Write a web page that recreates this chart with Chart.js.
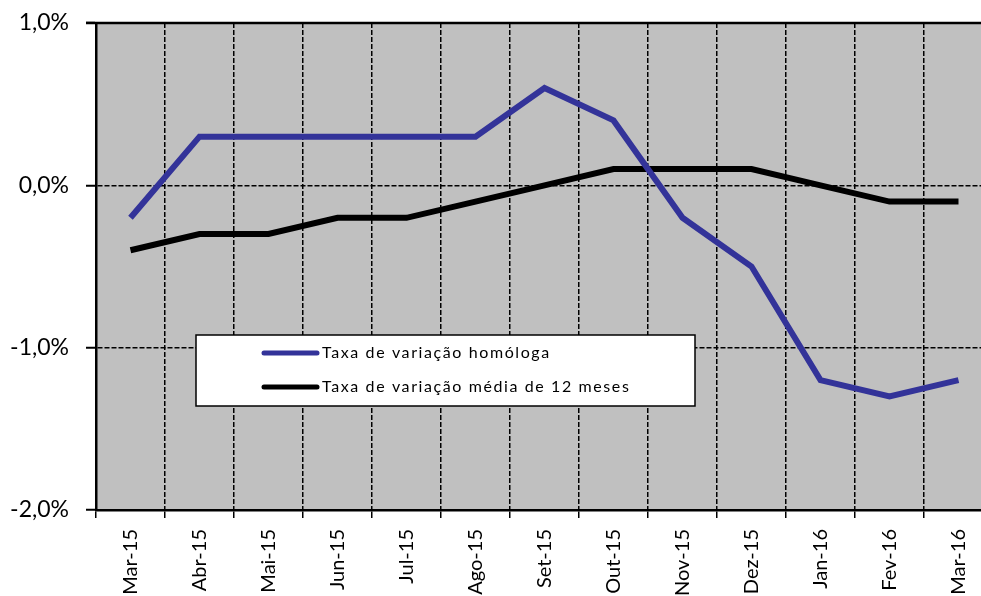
<!DOCTYPE html>
<html lang="pt">
<head>
<meta charset="UTF-8">
<title>Taxa de variação</title>
<script src="https://cdn.jsdelivr.net/npm/chart.js"></script>
<style>
  html, body { margin: 0; padding: 0; background: #fff; overflow: hidden; }
  #wrap { width: 995px; height: 596px; }
</style>
</head>
<body>
<div id="wrap"><canvas id="chart" width="995" height="596"></canvas></div>
<script>
// dados
const meses = ["Mar-15", "Abr-15", "Mai-15", "Jun-15", "Jul-15", "Ago-15", "Set-15",
               "Out-15", "Nov-15", "Dez-15", "Jan-16", "Fev-16", "Mar-16"];
const homologa = [-0.2, 0.3, 0.3, 0.3, 0.3, 0.3, 0.6, 0.4, -0.2, -0.5, -1.2, -1.3, -1.2];
const media12 = [-0.4, -0.3, -0.3, -0.2, -0.2, -0.1, 0.0, 0.1, 0.1, 0.1, 0.0, -0.1, -0.1];
const yTicks = [1, 0, -1, -2];

const fmt = v => v.toFixed(1).replace(".", ",") + "%";
const FONT = "Lato, 'Liberation Sans', Arial, sans-serif";

// fundo cinzento + moldura superior
const plotBg = {
  id: "plotBg",
  beforeDraw(chart) {
    const { ctx, chartArea: a } = chart;
    ctx.save();
    ctx.fillStyle = "#c0c0c0";
    ctx.fillRect(a.left, a.top, a.right - a.left, a.bottom - a.top);
    ctx.restore();
  },
  beforeDatasetsDraw(chart) {
    const { ctx, chartArea: a } = chart;
    ctx.save();
    ctx.strokeStyle = "#000";
    ctx.lineWidth = 2.5;
    ctx.beginPath();
    ctx.moveTo(a.left - 10, a.top);
    ctx.lineTo(a.right, a.top);
    ctx.stroke();
    ctx.restore();
  }
};

// legenda dentro do gráfico
const boxLegend = {
  id: "boxLegend",
  afterDatasetsDraw(chart) {
    const { ctx, chartArea: a } = chart;
    const x = a.left + 100, y = a.top + 312, w = 499, h = 71;
    ctx.save();
    ctx.fillStyle = "#fff";
    ctx.fillRect(x, y, w, h);
    ctx.strokeStyle = "#000";
    ctx.lineWidth = 1.5;
    ctx.strokeRect(x, y, w, h);
    ctx.font = "16px " + FONT;
    ctx.letterSpacing = "1.6px";
    ctx.textBaseline = "middle";
    chart.data.datasets.forEach((ds, i) => {
      const ly = y + 18 + i * 34;
      ctx.strokeStyle = ds.borderColor;
      ctx.lineWidth = 5;
      ctx.lineCap = "round";
      ctx.beginPath();
      ctx.moveTo(x + 68, ly);
      ctx.lineTo(x + 121, ly);
      ctx.stroke();
      ctx.fillStyle = "#000";
      ctx.fillText(ds.label, x + 126, ly);
    });
    ctx.restore();
  }
};

new Chart(document.getElementById("chart"), {
  type: "line",
  data: {
    labels: meses,
    datasets: [
      { label: "Taxa de variação homóloga", data: homologa, borderColor: "#333399",
        borderWidth: 6, pointRadius: 0, tension: 0 },
      { label: "Taxa de variação média de 12 meses", data: media12, borderColor: "#000000",
        borderWidth: 6, pointRadius: 0, tension: 0 }
    ]
  },
  options: {
    responsive: false,
    animation: false,
    layout: { padding: { top: 23, right: 2, left: 0, bottom: 0 } },
    plugins: { legend: { display: false }, tooltip: { enabled: false } },
    scales: {
      x: {
        offset: true,
        grid: { offset: true, color: "#000", lineWidth: 1.5, tickLength: 8, tickColor: "#000", tickWidth: 1.5 },
        border: { display: true, color: "#000", width: 2.5, dash: [5, 2] },
        ticks: {
          color: "#000", font: { family: FONT, size: 20 },
          minRotation: 90, maxRotation: 90, padding: 11, autoSkip: false
        },
        afterFit(s) { s.height = 86; s.paddingLeft = 0; s.paddingRight = 0; }
      },
      y: {
        min: -2, max: 1,
        afterBuildTicks(s) { s.ticks = yTicks.map(v => ({ value: v })); },
        grid: {
          color: c => (c.tick && (c.tick.value === 0 || c.tick.value === -1)) ? "#000" : "rgba(0,0,0,0)",
          lineWidth: 1.5, tickLength: 10, tickColor: "#000", tickWidth: 2
        },
        border: { display: true, color: "#000", width: 2.5, dash: [5, 2] },
        ticks: {
          color: "#000", padding: 17, font: { family: FONT, size: 23 },
          callback: v => fmt(v)
        },
        afterFit(s) { s.width = 96; s.paddingTop = 0; s.paddingBottom = 0; }
      }
    }
  },
  plugins: [plotBg, boxLegend]
});
</script>
</body>
</html>
